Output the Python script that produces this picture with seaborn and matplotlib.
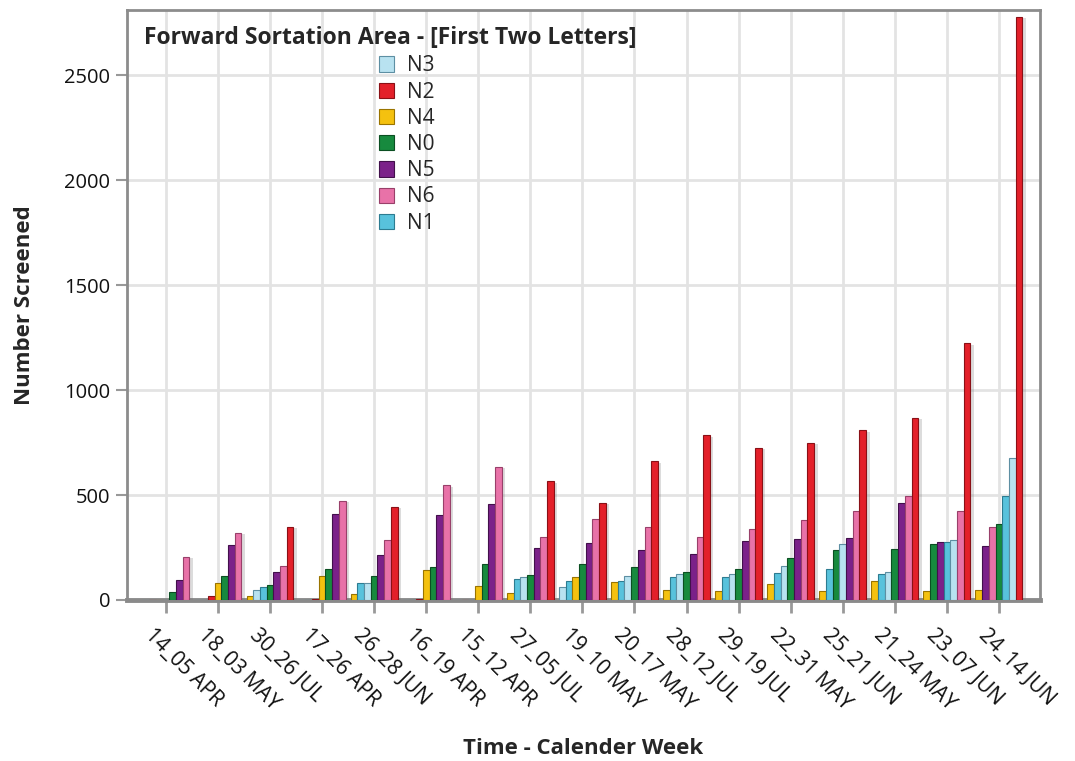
import matplotlib
matplotlib.use("Agg")
import matplotlib.pyplot as plt
import matplotlib.patheffects as pe
from matplotlib.patches import Patch
import seaborn as sns
import pandas as pd

weeks = ["14_05 APR", "18_03 MAY", "30_26 JUL", "17_26 APR", "26_28 JUN",
         "16_19 APR", "15_12 APR", "27_05 JUL", "19_10 MAY", "20_17 MAY",
         "28_12 JUL", "29_19 JUL", "22_31 MAY", "25_21 JUN", "21_24 MAY",
         "23_07 JUN", "24_14 JUN"]

series_names = ["N3", "N2", "N4", "N0", "N5", "N6", "N1"]

n3 = [0, 0, 48, 0, 82, 0, 0, 111, 64, 116, 123, 126, 161, 266, 131, 284, 677]
n2 = [0, 20, 350, 6, 445, 5, 0, 565, 464, 661, 784, 725, 750, 809, 868, 1224, 2780]
n4 = [0, 81, 20, 116, 27, 142, 68, 32, 110, 86, 48, 45, 78, 45, 92, 45, 48]
n0 = [40, 113, 70, 148, 113, 158, 170, 118, 170, 158, 131, 148, 201, 236, 245, 266, 363]
n5 = [94, 261, 132, 410, 213, 406, 459, 250, 272, 237, 218, 280, 292, 296, 462, 274, 258]
n6 = [207, 320, 162, 473, 285, 546, 634, 301, 384, 347, 301, 336, 379, 422, 494, 425, 347]
n1 = [0, 0, 61, 0, 79, 0, 0, 99, 91, 91, 108, 108, 129, 148, 124, 276, 494]

colors = {"N3": "#b8e2f0", "N2": "#e3202a", "N4": "#f4c10f", "N0": "#178a3e",
          "N5": "#7b2189", "N6": "#e872a8", "N1": "#58c2dc"}
edges = {"N3": "#5d8fa3", "N2": "#8a1016", "N4": "#9a7400", "N0": "#0b4f22",
         "N5": "#42104b", "N6": "#99406a", "N1": "#2d7c91"}

data = {"N3": n3, "N2": n2, "N4": n4, "N0": n0, "N5": n5, "N6": n6, "N1": n1}

rows = []
for i, w in enumerate(weeks):
    ordered = sorted(series_names, key=lambda s: data[s][i])
    for slot, s in enumerate(ordered):
        rows.append({"week": w, "series": s, "value": data[s][i], "slot": slot})
df = pd.DataFrame(rows)

sns.set_theme(style="white")
plt.rcParams["font.family"] = ["Open Sans", "DejaVu Sans"]

fig = plt.figure(figsize=(10.75, 7.61), dpi=100)
ax = fig.add_axes([0.118, 0.2116, 0.849, 0.7754])

sns.barplot(data=df, x="week", y="value", hue="slot", order=weeks,
            hue_order=list(range(7)), dodge=True, width=0.9, legend=False,
            errorbar=None, ax=ax, zorder=3)

lookup = {(r.week, r.slot): r.series for r in df.itertuples()}
for k, cont in enumerate(ax.containers):
    for j, bar in enumerate(cont):
        s = lookup[(weeks[j], k)]
        bar.set_facecolor(colors[s])
        bar.set_edgecolor(edges[s])
        bar.set_linewidth(0.8)
        bar.set_path_effects([pe.SimplePatchShadow(offset=(2.5, -1), alpha=0.25, shadow_rgbFace="#777777"),
                              pe.Normal()])

ax.set_xlim(-0.75, 16.78)
ax.set_ylim(0, 2812)
ax.set_yticks([0, 500, 1000, 1500, 2000, 2500])

ax.grid(True, color="#e3e3e3", linewidth=2, zorder=0)
ax.set_axisbelow(True)

for side in ["left", "top", "right"]:
    ax.spines[side].set_color("#8c8c8c")
    ax.spines[side].set_linewidth(2)
ax.spines["bottom"].set_color("#8a8a8a")
ax.spines["bottom"].set_linewidth(3.5)

ax.tick_params(axis="y", which="both", left=True, length=8, width=1.5, color="#999999",
               labelsize=14.5, labelcolor="#111111", pad=4)
ax.tick_params(axis="x", which="both", bottom=True, length=9, width=2, color="#999999",
               labelsize=15, labelcolor="#111111", pad=9)

ax.set_xticks(range(len(weeks)))
ax.set_xticklabels(weeks, rotation=-45, ha="left", va="top", rotation_mode="anchor")
for lab in ax.get_xticklabels():
    lab.set_transform(lab.get_transform() + matplotlib.transforms.ScaledTranslation(-10/100, 0, fig.dpi_scale_trans))

ax.set_ylabel("Number Screened", fontsize=16, fontweight="bold", labelpad=21)
ax.set_xlabel("Time - Calender Week", fontsize=16, fontweight="bold", labelpad=17)

# invisible spacer column shifts the entry block slightly right, as in the reference
spacer = [Patch(facecolor="none", edgecolor="none") for _ in series_names]
handles = spacer + [Patch(facecolor=colors[s], edgecolor=edges[s], linewidth=0.8) for s in series_names]
labels = [""] * len(series_names) + series_names
leg = ax.legend(handles, labels, title="Forward Sortation Area - [First Two Letters]",
                ncol=2, columnspacing=0.2,
                loc="upper left", bbox_to_anchor=(0.012, 0.983), fontsize=15,
                title_fontproperties={"weight": "bold", "size": 16.5},
                frameon=True, fancybox=False, framealpha=0, edgecolor="#999999",
                labelspacing=0.25, handlelength=0.75, handleheight=0.75, handletextpad=0.6,
                borderpad=0.3, borderaxespad=0)
leg.get_frame().set_linewidth(1.5)
leg.set_zorder(5)

fig.savefig("out.png", dpi=100)
